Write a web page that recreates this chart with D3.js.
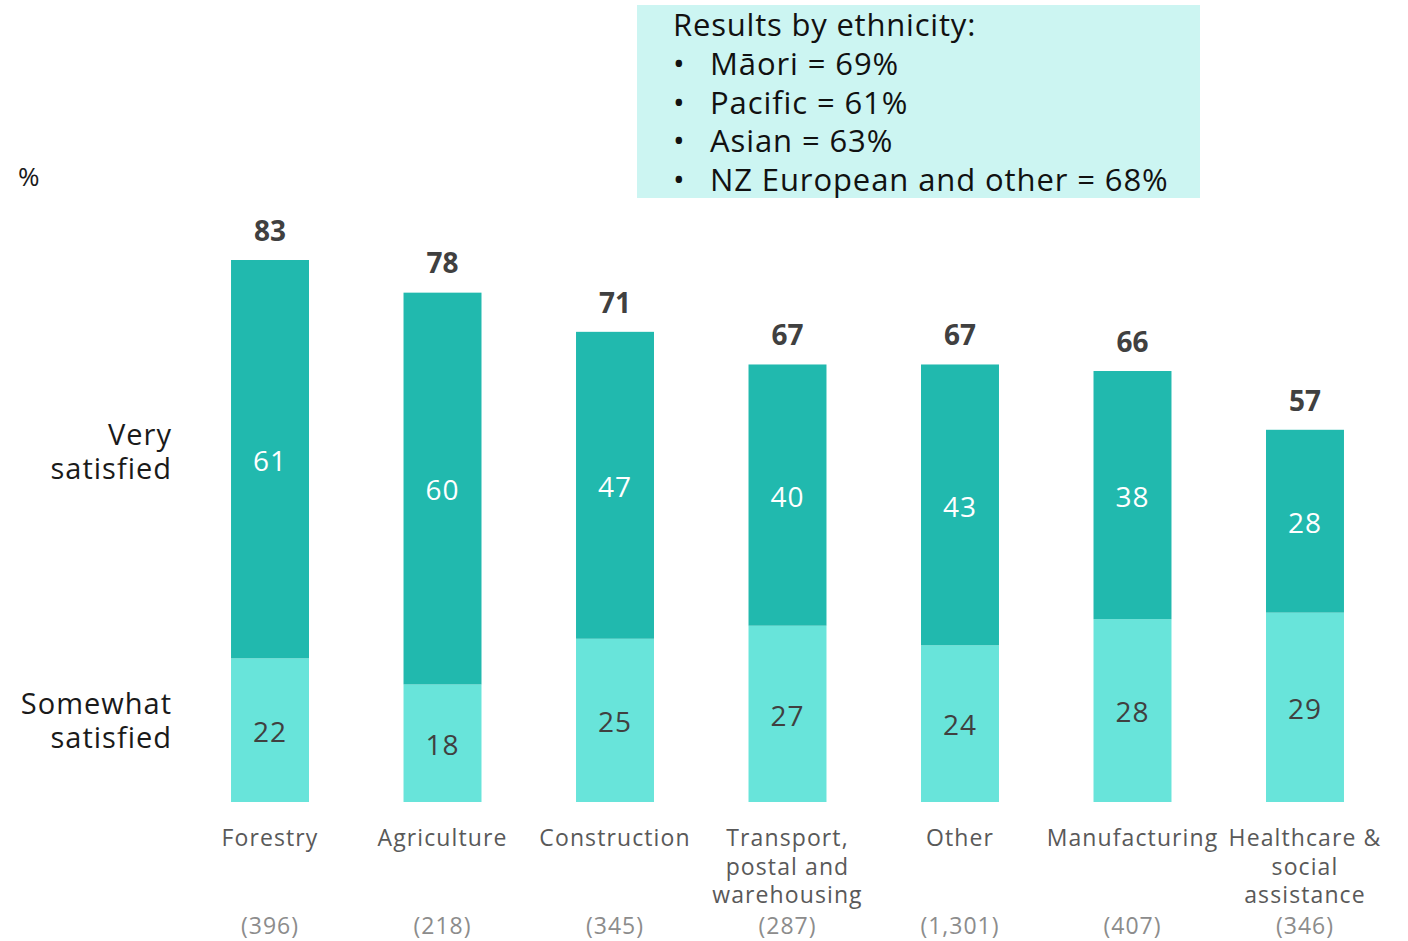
<!DOCTYPE html>
<html>
<head>
<meta charset="utf-8">
<script src="https://cdn.jsdelivr.net/npm/d3@7"></script>
<style>
  body { margin: 0; background: #fff; }
  svg text { font-family: "Open Sans", "DejaVu Sans", sans-serif; }
</style>
</head>
<body>
<div id="chart"></div>
<script>
// Data
const categories = ["Forestry", "Agriculture", "Construction", "Transport, postal and warehousing", "Other", "Manufacturing", "Healthcare & social assistance"];
const categoryLines = [["Forestry"], ["Agriculture"], ["Construction"], ["Transport,", "postal and", "warehousing"], ["Other"], ["Manufacturing"], ["Healthcare &", "social", "assistance"]];
const sampleSizes = ["(396)", "(218)", "(345)", "(287)", "(1,301)", "(407)", "(346)"];
const somewhatSatisfied = [22, 18, 25, 27, 24, 28, 29];
const verySatisfied = [61, 60, 47, 40, 43, 38, 28];
const totals = [83, 78, 71, 67, 67, 66, 57];
const ethnicityLines = ["Māori = 69%", "Pacific = 61%", "Asian = 63%", "NZ European and other = 68%"];

const width = 1408, height = 941;
const colors = { very: "#21b9ae", somewhat: "#68e4da", box: "#ccf5f2" };

const svg = d3.select("#chart").append("svg")
    .attr("width", width)
    .attr("height", height);

// Scales
const xScale = d3.scaleBand()
    .domain(categories)
    .range([136.5, 1438.5])
    .paddingInner(0.548)
    .paddingOuter(0.548);

const yScale = d3.scaleLinear()
    .domain([0, 83])
    .range([802, 260]);

const xMid = c => xScale(c) + xScale.bandwidth() / 2;

const rows = categories.map((c, i) => ({
    cat: c,
    somewhat: somewhatSatisfied[i],
    very: verySatisfied[i],
    total: totals[i]
}));

const series = d3.stack().keys(["somewhat", "very"])(rows);

// Bars
svg.append("g").selectAll("g")
    .data(series)
    .join("g")
    .attr("fill", d => colors[d.key])
    .selectAll("rect")
    .data(d => d)
    .join("rect")
    .attr("x", d => xScale(d.data.cat))
    .attr("y", d => yScale(d[1]))
    .attr("width", xScale.bandwidth())
    .attr("height", d => yScale(d[0]) - yScale(d[1]));

// Segment labels
series.forEach(s => {
    svg.append("g").selectAll("text")
        .data(s)
        .join("text")
        .attr("x", d => xMid(d.data.cat))
        .attr("y", d => (yScale(d[0]) + yScale(d[1])) / 2 + 2)
        .attr("dy", "0.35em")
        .attr("text-anchor", "middle")
        .attr("font-size", 28)
        .attr("letter-spacing", 1)
        .attr("fill", s.key === "very" ? "#ffffff" : "#404040")
        .text(d => d[1] - d[0]);
});

// Totals above bars
svg.append("g").selectAll("text")
    .data(rows)
    .join("text")
    .attr("x", d => xMid(d.cat))
    .attr("y", d => yScale(d.somewhat + d.very) - 29)
    .attr("dy", "0.35em")
    .attr("text-anchor", "middle")
    .attr("font-size", 28)
    .attr("font-weight", "bold")
    .attr("fill", "#404040")
    .text(d => d.total);

// Category labels, one text per line
const catGroup = svg.append("g");
categoryLines.forEach((lines, i) => {
    catGroup.selectAll(null)
        .data(lines)
        .join("text")
        .attr("x", xMid(categories[i]))
        .attr("y", (d, j) => 846 + j * 28.5)
        .attr("text-anchor", "middle")
        .attr("font-size", 23)
        .attr("letter-spacing", 1.1)
        .attr("fill", "#595959")
        .text(d => d);
});

// Sample sizes
svg.append("g").selectAll("text")
    .data(sampleSizes)
    .join("text")
    .attr("x", (d, i) => xMid(categories[i]))
    .attr("y", 934)
    .attr("text-anchor", "middle")
    .attr("font-size", 23)
    .attr("letter-spacing", 1)
    .attr("fill", "#8c8c8c")
    .text(d => d);

// Series labels on the left
const seriesLabels = [
    { lines: ["Very", "satisfied"], y: 445 },
    { lines: ["Somewhat", "satisfied"], y: 714 }
];
seriesLabels.forEach(s => {
    svg.append("g").selectAll("text")
        .data(s.lines)
        .join("text")
        .attr("x", 172)
        .attr("y", (d, j) => s.y + j * 34)
        .attr("text-anchor", "end")
        .attr("font-size", 29)
        .attr("letter-spacing", 1)
        .attr("fill", "#1a1a1a")
        .text(d => d);
});

// Percent unit label
svg.append("text")
    .attr("x", 18)
    .attr("y", 186)
    .attr("font-size", 26)
    .attr("fill", "#1a1a1a")
    .text("%");

// Ethnicity box
const box = svg.append("g");
box.append("rect")
    .attr("x", 637)
    .attr("y", 5)
    .attr("width", 563)
    .attr("height", 193)
    .attr("fill", colors.box);

box.append("text")
    .attr("x", 673)
    .attr("y", 36)
    .attr("font-size", 31)
    .attr("letter-spacing", 0.8)
    .attr("fill", "#111")
    .text("Results by ethnicity:");

box.selectAll("text.item")
    .data(ethnicityLines)
    .join("text")
    .attr("class", "item")
    .attr("x", 710)
    .attr("y", (d, i) => 75 + i * 38.5)
    .attr("font-size", 31)
    .attr("letter-spacing", 0.9)
    .attr("fill", "#111")
    .text(d => d);

box.selectAll("text.bullet")
    .data(ethnicityLines)
    .join("text")
    .attr("class", "bullet")
    .attr("x", 673)
    .attr("y", (d, i) => 75 + i * 38.5)
    .attr("font-size", 31)
    .attr("fill", "#111")
    .text("•");
</script>
</body>
</html>
